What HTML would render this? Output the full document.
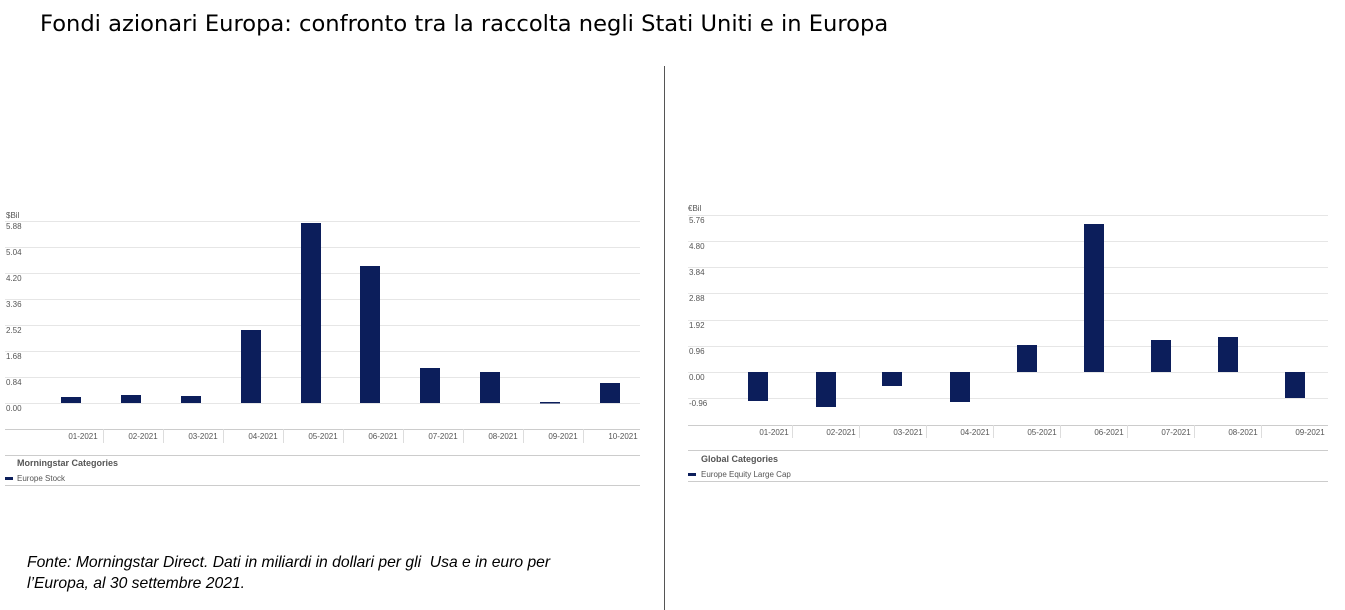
<!DOCTYPE html>
<html><head><meta charset="utf-8"><style>
body{margin:0;width:1345px;height:610px;background:#fff;overflow:hidden;position:relative;font-family:"Liberation Sans",sans-serif}
.t{position:absolute;white-space:nowrap}
</style></head><body>
<div class="t" style="left:40px;top:11px;color:#000;font-family:'DejaVu Sans','Liberation Sans',sans-serif;font-size:22.6px">Fondi azionari Europa: confronto tra la raccolta negli Stati Uniti e in Europa</div>
<div style="position:absolute;left:664px;top:66px;width:1px;height:544px;background:#555"></div>
<div class="t" style="left:27px;top:552px;font-size:15.7px;font-style:italic;line-height:21px">Fonte: Morningstar Direct. Dati in miliardi in dollari per gli&nbsp; Usa e in euro per<br>l’Europa, al 30 settembre 2021.</div>
<svg width="1345" height="610" style="position:absolute;left:0;top:0" font-family="Liberation Sans, sans-serif" font-size="8" fill="#555">
<g stroke="#e6e6e6" stroke-width="1">
<line x1="5" x2="640" y1="221.5" y2="221.5"/><line x1="5" x2="640" y1="247.5" y2="247.5"/><line x1="5" x2="640" y1="273.5" y2="273.5"/><line x1="5" x2="640" y1="299.5" y2="299.5"/><line x1="5" x2="640" y1="325.5" y2="325.5"/><line x1="5" x2="640" y1="351.5" y2="351.5"/><line x1="5" x2="640" y1="377.5" y2="377.5"/><line x1="5" x2="640" y1="403.5" y2="403.5"/>
</g>
<line x1="5" x2="640" y1="429.5" y2="429.5" stroke="#ccc"/>
<line x1="5" x2="640" y1="455.5" y2="455.5" stroke="#ccc"/>
<line x1="5" x2="640" y1="485.5" y2="485.5" stroke="#ccc"/>
<g stroke="#ddd"><line x1="103.5" x2="103.5" y1="429" y2="443"/><line x1="163.5" x2="163.5" y1="429" y2="443"/><line x1="223.5" x2="223.5" y1="429" y2="443"/><line x1="283.5" x2="283.5" y1="429" y2="443"/><line x1="343.5" x2="343.5" y1="429" y2="443"/><line x1="403.5" x2="403.5" y1="429" y2="443"/><line x1="463.5" x2="463.5" y1="429" y2="443"/><line x1="523.5" x2="523.5" y1="429" y2="443"/><line x1="583.5" x2="583.5" y1="429" y2="443"/></g>
<text x="6" y="218">$Bil</text>
<text x="6" y="229">5.88</text><text x="6" y="255">5.04</text><text x="6" y="281">4.20</text><text x="6" y="307">3.36</text><text x="6" y="333">2.52</text><text x="6" y="359">1.68</text><text x="6" y="385">0.84</text><text x="6" y="411">0.00</text>
<g fill="#0c1e5b">
<rect x="61" y="397" width="20" height="6"/><rect x="121" y="395" width="20" height="8"/><rect x="181" y="396" width="20" height="7"/><rect x="241" y="330" width="20" height="73"/><rect x="301" y="223" width="20" height="180"/><rect x="360" y="266" width="20" height="137"/><rect x="420" y="368" width="20" height="35"/><rect x="480" y="372" width="20" height="31"/><rect x="540" y="402" width="20" height="1.5"/><rect x="600" y="383" width="20" height="20"/>
</g>
<g text-anchor="middle"><text x="83" y="439">01-2021</text><text x="143" y="439">02-2021</text><text x="203" y="439">03-2021</text><text x="263" y="439">04-2021</text><text x="323" y="439">05-2021</text><text x="383" y="439">06-2021</text><text x="443" y="439">07-2021</text><text x="503" y="439">08-2021</text><text x="563" y="439">09-2021</text><text x="623" y="439">10-2021</text></g>
<text x="17" y="466" font-weight="bold" font-size="9">Morningstar Categories</text>
<rect x="5" y="477" width="8" height="3" fill="#0c1e5b"/><text x="17" y="481">Europe Stock</text>

<g stroke="#e6e6e6">
<line x1="688" x2="1328" y1="215.5" y2="215.5"/><line x1="688" x2="1328" y1="241.5" y2="241.5"/><line x1="688" x2="1328" y1="267.5" y2="267.5"/><line x1="688" x2="1328" y1="293.5" y2="293.5"/><line x1="688" x2="1328" y1="320.5" y2="320.5"/><line x1="688" x2="1328" y1="346.5" y2="346.5"/><line x1="688" x2="1328" y1="372.5" y2="372.5"/><line x1="688" x2="1328" y1="398.5" y2="398.5"/>
</g>
<line x1="688" x2="1328" y1="425.5" y2="425.5" stroke="#ccc"/>
<line x1="688" x2="1328" y1="450.5" y2="450.5" stroke="#ccc"/>
<line x1="688" x2="1328" y1="481.5" y2="481.5" stroke="#ccc"/>
<g stroke="#ddd"><line x1="792.5" x2="792.5" y1="425" y2="438"/><line x1="859.5" x2="859.5" y1="425" y2="438"/><line x1="926.5" x2="926.5" y1="425" y2="438"/><line x1="993.5" x2="993.5" y1="425" y2="438"/><line x1="1060.5" x2="1060.5" y1="425" y2="438"/><line x1="1127.5" x2="1127.5" y1="425" y2="438"/><line x1="1194.5" x2="1194.5" y1="425" y2="438"/><line x1="1261.5" x2="1261.5" y1="425" y2="438"/></g>
<text x="688" y="211">€Bil</text>
<text x="689" y="223">5.76</text><text x="689" y="249">4.80</text><text x="689" y="275">3.84</text><text x="689" y="301">2.88</text><text x="689" y="328">1.92</text><text x="689" y="354">0.96</text><text x="689" y="380">0.00</text><text x="689" y="406">-0.96</text>
<g fill="#0c1e5b">
<rect x="748" y="372" width="20" height="29"/><rect x="816" y="372" width="20" height="35"/><rect x="882" y="372" width="20" height="14"/><rect x="950" y="372" width="20" height="30"/><rect x="1017" y="345" width="20" height="27"/><rect x="1084" y="224" width="20" height="148"/><rect x="1151" y="340" width="20" height="32"/><rect x="1218" y="337" width="20" height="35"/><rect x="1285" y="372" width="20" height="26"/>
</g>
<g text-anchor="middle"><text x="774" y="435">01-2021</text><text x="841" y="435">02-2021</text><text x="908" y="435">03-2021</text><text x="975" y="435">04-2021</text><text x="1042" y="435">05-2021</text><text x="1109" y="435">06-2021</text><text x="1176" y="435">07-2021</text><text x="1243" y="435">08-2021</text><text x="1310" y="435">09-2021</text></g>
<text x="701" y="462" font-weight="bold" font-size="9">Global Categories</text>
<rect x="688" y="473" width="8" height="3" fill="#0c1e5b"/><text x="701" y="477">Europe Equity Large Cap</text>
</svg>
</body></html>
